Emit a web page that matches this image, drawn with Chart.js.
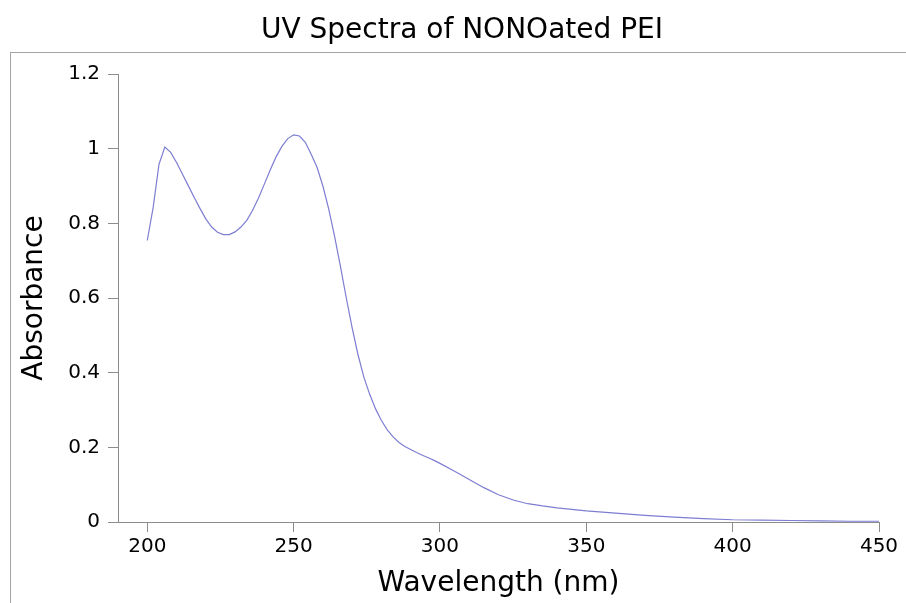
<!DOCTYPE html>
<html>
<head>
<meta charset="utf-8">
<script src="https://cdn.jsdelivr.net/npm/chart.js@4/dist/chart.umd.min.js"></script>
<style>
    body { margin: 0; background: #fff; }
    #caixa { position: relative; width: 906px; height: 603px; overflow: hidden; }
    #moldura { position: absolute; left: 10px; top: 52px; right: -5px; bottom: -5px; border-left: 1px solid #a4a4a4; border-top: 1px solid #a4a4a4; }
    #graficoUV { position: absolute; left: 0; top: 0; }
</style>
</head>
<body>
<div id="caixa">
    <div id="moldura"></div>
    <canvas id="graficoUV" width="906" height="603"></canvas>
</div>
<script>
// ---- dados do espectro UV
const wavelength = [200, 202, 204, 206, 208, 210, 212, 214, 216, 218, 220, 222, 224, 226, 228, 230, 232, 234, 236, 238,
    240, 242, 244, 246, 248, 250, 252, 254, 256, 258, 260, 262, 264, 266, 268, 270, 272, 274, 276, 278,
    280, 282, 284, 286, 288, 290, 292, 294, 296, 298, 300, 305, 310, 315, 320, 325, 330, 335, 340, 350,
    360, 370, 380, 390, 400, 410, 420, 430, 440, 450];
const absorbance = [0.754, 0.842, 0.958, 1.004, 0.990, 0.963, 0.932, 0.901, 0.870, 0.840, 0.812, 0.790, 0.776, 0.770, 0.770, 0.777, 0.790, 0.808, 0.835, 0.868,
    0.905, 0.943, 0.978, 1.006, 1.027, 1.037, 1.034, 1.017, 0.985, 0.950, 0.900, 0.838, 0.765, 0.685, 0.600, 0.520, 0.448, 0.388, 0.342, 0.303,
    0.272, 0.247, 0.228, 0.213, 0.202, 0.194, 0.186, 0.179, 0.172, 0.165, 0.157, 0.136, 0.114, 0.092, 0.073, 0.059, 0.049, 0.043, 0.038, 0.030,
    0.024, 0.018, 0.013, 0.009, 0.006, 0.005, 0.004, 0.003, 0.002, 0.002];

const xTicks = [200, 250, 300, 350, 400, 450];
const yTicks = [0, 0.2, 0.4, 0.6, 0.8, 1, 1.2];
const yTickLabels = ['0', '0.2', '0.4', '0.6', '0.8', '1', '1.2'];

const corEixo = '#8c8c8c';
const fonte = 'DejaVu Sans';

const ctx = document.getElementById('graficoUV').getContext('2d');
let graficoUV = new Chart(ctx, {
    type: 'line',
    data: {
        datasets: [{
            label: 'NONOated PEI',
            data: wavelength.map((w, i) => ({ x: w, y: absorbance[i] })),
            borderColor: 'rgb(125, 125, 210)',
            borderWidth: 1.2,
            pointRadius: 0,
            tension: 0
        }]
    },
    options: {
        responsive: false,
        animation: false,
        devicePixelRatio: 1,
        layout: { padding: { left: 18, right: 0, top: 0, bottom: 0 } },
        plugins: {
            legend: { display: false },
            tooltip: { enabled: false },
            title: {
                display: true,
                text: 'UV Spectra of NONOated PEI',
                color: '#000',
                font: { family: fonte, size: 28, weight: 'normal', lineHeight: 1.2 },
                padding: { top: 14, bottom: 26.4 }
            }
        },
        scales: {
            x: {
                type: 'linear',
                min: 190,
                max: 450,
                afterBuildTicks: scale => { scale.ticks = xTicks.map(v => ({ value: v })); },
                afterFit: scale => { scale.height = 81; scale.paddingRight = 27; },
                grid: { display: true, drawOnChartArea: false, drawTicks: true, tickLength: 10, color: corEixo },
                border: { display: true, color: corEixo, width: 1 },
                ticks: { color: '#000', padding: 3, maxRotation: 0, font: { family: fonte, size: 20 } },
                title: {
                    display: true,
                    text: 'Wavelength (nm)', // titulo do eixo X
                    color: '#000',
                    font: { family: fonte, size: 28, lineHeight: 1.2 },
                    padding: { top: 0, bottom: 2 }
                }
            },
            y: {
                min: 0,
                max: 1.2,
                afterBuildTicks: scale => { scale.ticks = yTicks.map(v => ({ value: v })); },
                afterFit: scale => { scale.width = 100; },
                grid: { display: true, drawOnChartArea: false, drawTicks: true, tickLength: 10, color: corEixo },
                border: { display: true, color: corEixo, width: 1 },
                ticks: {
                    color: '#000',
                    padding: 8,
                    font: { family: fonte, size: 20 },
                    callback: (valor, indice) => yTickLabels[indice]
                },
                title: {
                    display: true,
                    text: 'Absorbance', // titulo do eixo Y
                    color: '#000',
                    font: { family: fonte, size: 28, lineHeight: 1.2 },
                    padding: { top: 0, bottom: 0 }
                }
            }
        }
    }
});
</script>
</body>
</html>
